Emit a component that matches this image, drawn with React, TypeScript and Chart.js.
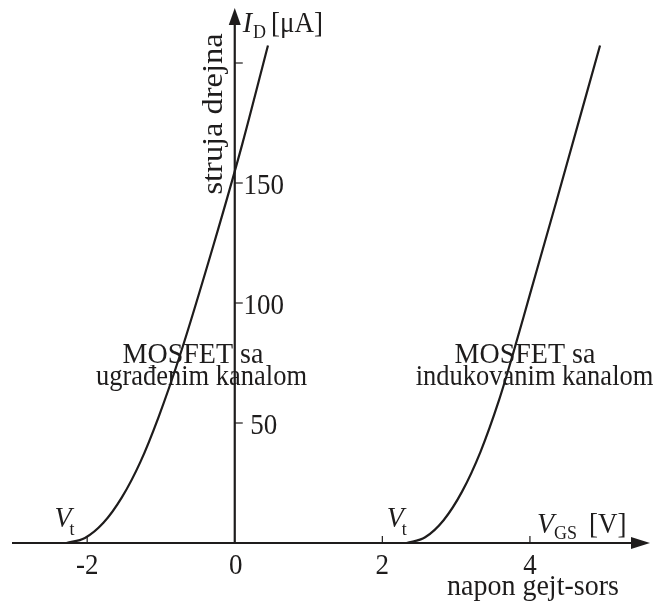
import React, { useEffect, useRef } from "react";
import { Chart, registerables } from "chart.js";

Chart.register(...registerables);

// Transfer characteristics I_D(V_GS)
const vgsDepletion = [-2.28, -2.03, -1.78, -1.53, -1.28, -1.03, -0.75, -0.28, 0.1, 0.45];
const idDepletion = [0, 2.1, 8.4, 19, 33.7, 52.7, 77.5, 125, 166, 207.3];
const vgsEnhancement = [2.33, 2.58, 2.83, 3.08, 3.33, 3.58, 3.75, 4.0, 4.36, 4.95];
const idEnhancement = [0, 2.4, 9.5, 21.4, 38, 59.4, 76.6, 103.6, 142.5, 207.3];

const thresholdVoltages = [-2.28, 2.33];

const xTickValues = [-2, 0, 2, 4];
const xTickLabels = ["-2", "0", "2", "4"];
const yTickValues = [50, 100, 150, 200];
const yTickLabels = ["50", "100", "150", ""];

const depletionCaption = ["MOSFET sa", "ugrađenim kanalom"];
const enhancementCaption = ["MOSFET sa", "indukovanim kanalom"];

const ink = "#1e1c1c";
const serif = '"Liberation Serif", "Times New Roman", serif';
const STRETCH = 1.08;
const mainFont = `27px ${serif}`;
const italicFont = `italic 28px ${serif}`;
const subFont = `18px ${serif}`;

function drawText(
  ctx: CanvasRenderingContext2D,
  str: string,
  x: number,
  y: number,
  font: string,
  align: CanvasTextAlign = "left",
  rotate = 0
) {
  ctx.save();
  ctx.translate(x, y);
  ctx.scale(1, STRETCH);
  if (rotate) ctx.rotate(rotate);
  ctx.font = font;
  ctx.fillStyle = ink;
  ctx.textAlign = align;
  ctx.textBaseline = "alphabetic";
  ctx.fillText(str, 0, 0);
  ctx.restore();
}

function measure(ctx: CanvasRenderingContext2D, str: string, font: string) {
  ctx.save();
  ctx.font = font;
  const w = ctx.measureText(str).width;
  ctx.restore();
  return w;
}

// italic symbol + upright subscript + optional unit
function drawSymbol(
  ctx: CanvasRenderingContext2D,
  x: number,
  y: number,
  sym: string,
  sub: string,
  tail: string,
  subGap: number,
  tailGap: number
) {
  drawText(ctx, sym, x, y, italicFont);
  const sx = x + measure(ctx, sym, italicFont) + subGap;
  drawText(ctx, sub, sx, y + 6, subFont);
  if (tail) {
    const tx = sx + measure(ctx, sub, subFont) + tailGap;
    drawText(ctx, tail, tx, y, mainFont);
  }
}

const axesPlugin = {
  id: "crossedAxes",
  beforeDatasetsDraw(chart: any) {
    const { ctx, scales } = chart;
    const xs = scales.x;
    const ys = scales.y;
    const ox = xs.getPixelForValue(0);
    const oy = ys.getPixelForValue(0);
    const left = 12;
    const right = 650;
    const top = 8;

    ctx.save();
    ctx.strokeStyle = ink;
    ctx.fillStyle = ink;
    ctx.lineWidth = 2.2;

    // x axis with arrow
    ctx.beginPath();
    ctx.moveTo(left, oy);
    ctx.lineTo(right - 14, oy);
    ctx.stroke();
    ctx.beginPath();
    ctx.moveTo(right, oy);
    ctx.lineTo(right - 19, oy - 6);
    ctx.lineTo(right - 19, oy + 6);
    ctx.closePath();
    ctx.fill();

    // y axis with arrow
    ctx.beginPath();
    ctx.moveTo(ox, oy);
    ctx.lineTo(ox, top + 14);
    ctx.stroke();
    ctx.beginPath();
    ctx.moveTo(ox, top);
    ctx.lineTo(ox - 6, top + 17);
    ctx.lineTo(ox + 6, top + 17);
    ctx.closePath();
    ctx.fill();

    // ticks
    ctx.lineWidth = 1.2;
    xTickValues.forEach((v) => {
      if (v === 0) return;
      const px = xs.getPixelForValue(v);
      ctx.beginPath();
      ctx.moveTo(px, oy);
      ctx.lineTo(px, oy - 7);
      ctx.stroke();
    });
    yTickValues.forEach((v) => {
      const py = ys.getPixelForValue(v);
      ctx.beginPath();
      ctx.moveTo(ox, py);
      ctx.lineTo(ox + 8, py);
      ctx.stroke();
    });
    ctx.restore();

    // tick labels
    xTickValues.forEach((v, i) => {
      const px = xs.getPixelForValue(v);
      drawText(ctx, xTickLabels[i], px + (v === 0 ? 1 : 0), oy + 31, mainFont, "center");
    });
    yTickValues.forEach((v, i) => {
      if (!yTickLabels[i]) return;
      const py = ys.getPixelForValue(v);
      drawText(ctx, yTickLabels[i], ox + 29, py + 11, mainFont, "center");
    });

    // axis titles
    drawSymbol(ctx, ox + 8, 32, "I", "D", "[μA]", 1, 5);
    drawText(ctx, "struja drejna", ox - 13, 114, `30px ${serif}`, "center", -Math.PI / 2);
    drawSymbol(ctx, xs.getPixelForValue(4) + 7, oy - 10, "V", "GS", "[V]", 0, 12);
    drawText(ctx, "napon gejt-sors", 447, oy + 52, `28px ${serif}`);

    // threshold labels
    thresholdVoltages.forEach((vt, i) => {
      const px = xs.getPixelForValue(vt);
      const x0 = i === 0 ? px - 12 : px - 20;
      drawText(ctx, "V", x0, oy - 16, italicFont);
      drawText(ctx, "t", x0 + 15, oy - 8, subFont);
    });

    // curve captions
    const capY1 = 363;
    const capY2 = 385;
    drawText(ctx, depletionCaption[0], 193, capY1, `28px ${serif}`, "center");
    drawText(ctx, depletionCaption[1], 201.5, capY2, `26.5px ${serif}`, "center");
    drawText(ctx, enhancementCaption[0], 525, capY1, `28px ${serif}`, "center");
    drawText(ctx, enhancementCaption[1], 534.5, capY2, `26.5px ${serif}`, "center");
  },
};

export default function App() {
  const canvasRef = useRef<HTMLCanvasElement | null>(null);

  useEffect(() => {
    const canvas = canvasRef.current;
    if (!canvas) return;
    const toPoints = (xs: number[], ys: number[]) => xs.map((x, i) => ({ x, y: ys[i] }));
    const chart = new Chart(canvas, {
      type: "scatter",
      data: {
        datasets: [
          {
            label: "ugrađeni kanal",
            data: toPoints(vgsDepletion, idDepletion),
            showLine: true,
            borderColor: ink,
            borderWidth: 2.2,
            pointRadius: 0,
            cubicInterpolationMode: "monotone",
          },
          {
            label: "indukovani kanal",
            data: toPoints(vgsEnhancement, idEnhancement),
            showLine: true,
            borderColor: ink,
            borderWidth: 2.2,
            pointRadius: 0,
            cubicInterpolationMode: "monotone",
          },
        ],
      },
      options: {
        animation: false,
        responsive: false,
        layout: { padding: { left: 6, right: 7, top: 9, bottom: 12 } },
        plugins: { legend: { display: false }, tooltip: { enabled: false } },
        scales: {
          x: { type: "linear", min: -3.1, max: 5.6, display: false },
          y: { type: "linear", min: -20, max: 222.5, display: false },
        },
      },
      plugins: [axesPlugin],
    });
    return () => chart.destroy();
  }, []);

  return (
    <div style={{ position: "fixed", left: 0, top: 0, width: 655, height: 603, background: "#fff" }}>
      <canvas ref={canvasRef} width={655} height={603} style={{ display: "block" }} />
    </div>
  );
}
